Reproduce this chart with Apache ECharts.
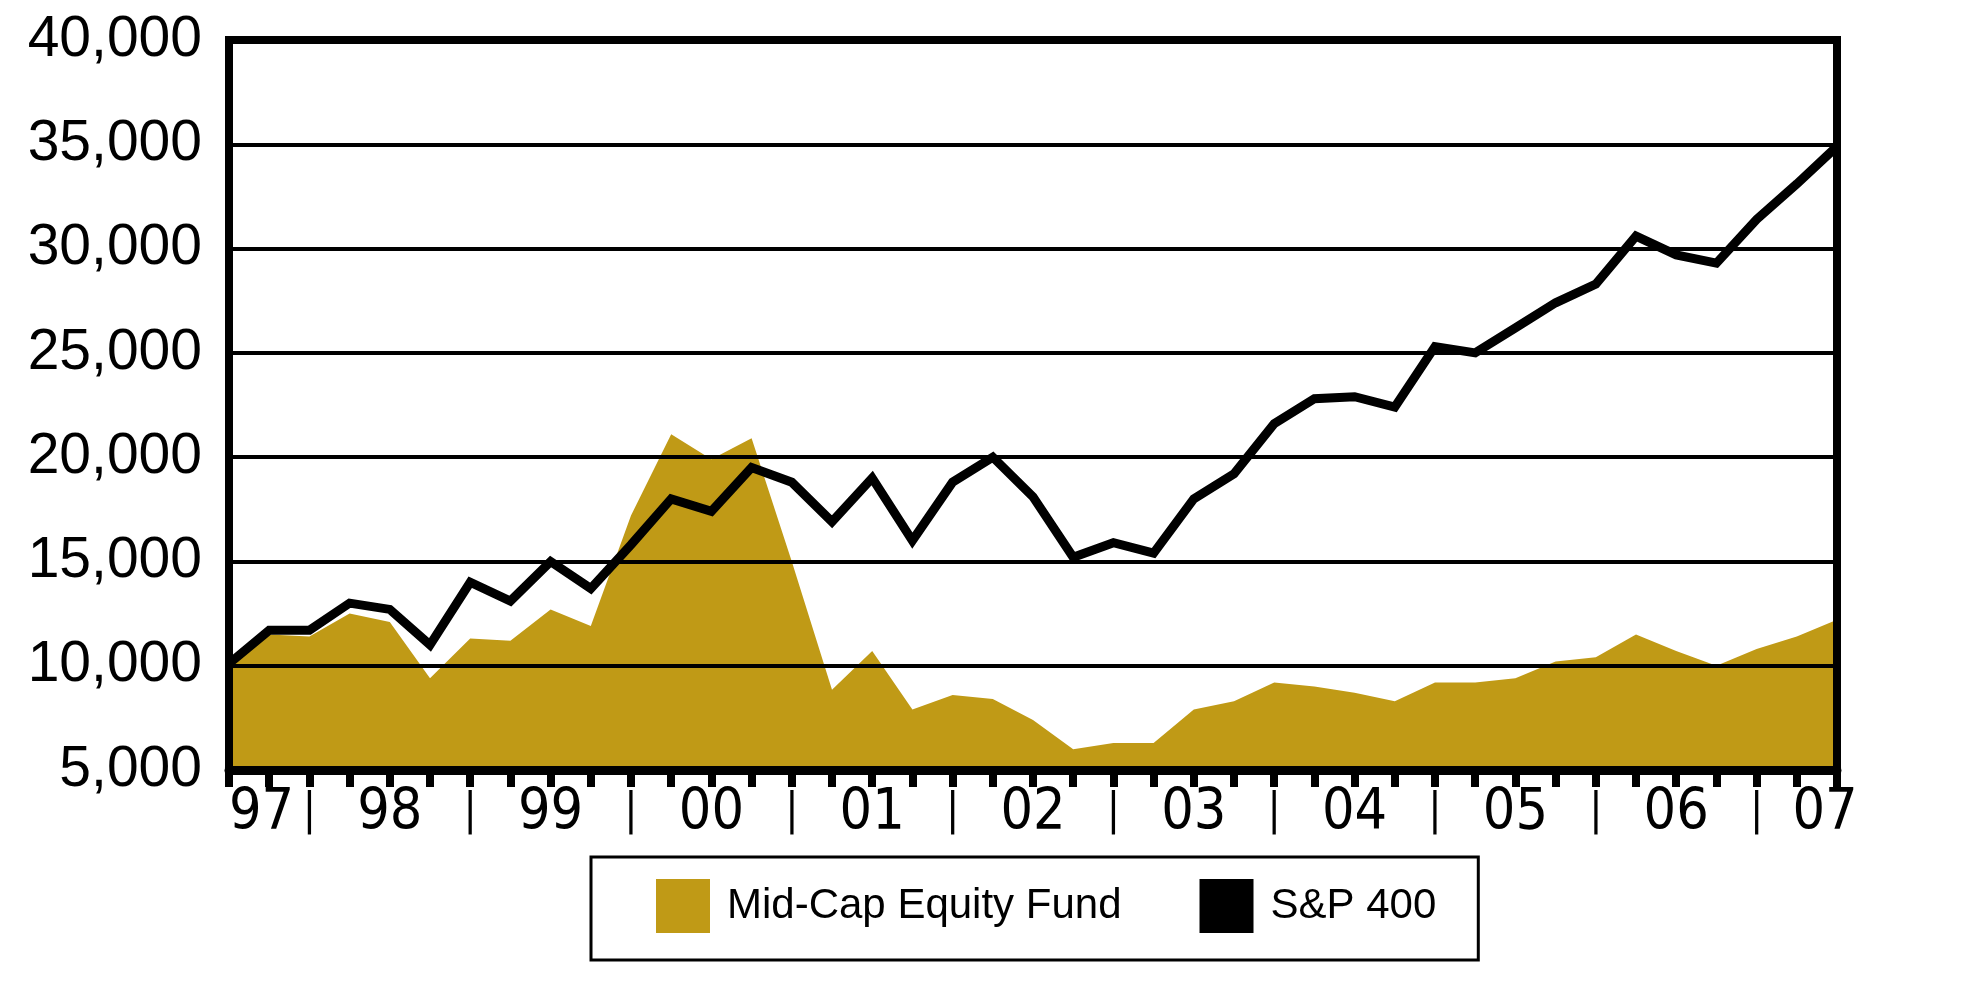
<!DOCTYPE html>
<html>
<head>
<meta charset="utf-8">
<script src="https://cdn.jsdelivr.net/npm/echarts@6/dist/echarts.min.js"></script>
<style>
  html, body { margin: 0; padding: 0; background: #fff; }
  #chart { width: 1967px; height: 988px; }
</style>
</head>
<body>
<div id="chart"></div>
<script>
// Year labels shown on the x axis (one every 4 quarterly points)
const years = ['97', '98', '99', '00', '01', '02', '03', '04', '05', '06', '07'];
const separator = '|';

// Quarterly values (41 points)
const fundValues = [9900, 11500, 11400, 12500, 12100, 9400, 11300, 11200, 12700, 11900,
  17200, 21100, 19900, 20900, 15000, 8850, 10700, 7900, 8600, 8400,
  7400, 6000, 6300, 6300, 7900, 8300, 9200, 9000, 8700, 8300,
  9200, 9200, 9400, 10200, 10400, 11500, 10700, 10000, 10800, 11400, 12200];
const spValues = [10100, 11700, 11700, 13000, 12700, 11000, 14000, 13100, 15000, 13700,
  15800, 18000, 17400, 19500, 18800, 16900, 19000, 16000, 18800, 20000,
  18100, 15200, 15900, 15400, 18000, 19200, 21600, 22800, 22900, 22400,
  25300, 25000, 26200, 27400, 28300, 30600, 29700, 29300, 31400, 33100, 34900];

const yTicks = { min: 5000, max: 40000, interval: 5000 };
const seriesNames = ['Mid-Cap Equity Fund', 'S&P 400'];

// Category labels built from the year list: year every 4th point, separator halfway
const categories = fundValues.map((_, i) => {
  if (i % 4 === 0) return years[i / 4];
  if (i % 4 === 2) return separator;
  return '';
});
const lastIndex = categories.length - 1;

const GOLD = '#C09A16';
const BASE_FONT = "'Liberation Sans', Arial, Helvetica, sans-serif";
const NARROW_FONT = "'Liberation Sans Narrow', 'Arial Narrow', 'DejaVu Sans Condensed', 'Liberation Sans', sans-serif";

const chart = echarts.init(document.getElementById('chart'), null, { renderer: 'canvas' });

const option = {
  backgroundColor: '#ffffff',
  animation: false,
  grid: {
    left: 229, right: 130, top: 40, bottom: 218,
    show: true, borderColor: '#000', borderWidth: 8, backgroundColor: 'transparent'
  },
  legend: {
    left: 591, top: 857,
    padding: [22, 42, 27, 65],
    borderColor: '#000', borderWidth: 3,
    itemWidth: 54, itemHeight: 54, itemGap: 78,
    icon: 'rect',
    textStyle: { fontFamily: BASE_FONT, fontSize: 42, color: '#000', padding: [0, 0, 0, 12] },
    data: seriesNames
  },
  xAxis: [{
    type: 'category',
    data: categories,
    boundaryGap: false,
    z: 10,
    axisLine: { show: true, lineStyle: { color: '#000', width: 9 } },
    axisTick: { show: true, interval: 0, length: 17, lineStyle: { color: '#000', width: 8 } },
    axisLabel: {
      interval: 0, margin: 16, color: '#000',
      fontFamily: NARROW_FONT, fontSize: 57,
      alignMinLabel: 'left', alignMaxLabel: 'center',
      formatter: (val, idx) => {
        if (val === separator) return '{sep|' + val + '}';
        if (idx === lastIndex) return '{last|' + val + '}';
        return val;
      },
      rich: {
        sep: { fontFamily: NARROW_FONT, fontSize: 44, color: '#000', padding: [5, 0, 0, 0] },
        last: { fontFamily: NARROW_FONT, fontSize: 57, color: '#000', padding: [0, 24, 0, 0] }
      }
    },
    splitLine: { show: false }
  }, {
    type: 'category',
    data: categories,
    boundaryGap: false,
    position: 'top',
    z: 10,
    axisLine: { show: true, lineStyle: { color: '#000', width: 8 } },
    axisTick: { show: false },
    axisLabel: { show: false }
  }],
  yAxis: [{
    type: 'value',
    min: yTicks.min, max: yTicks.max, interval: yTicks.interval,
    z: 10,
    axisLine: { show: true, lineStyle: { color: '#000', width: 8 } },
    axisTick: { show: false },
    axisLabel: {
      margin: 27, color: '#000', fontFamily: BASE_FONT, fontSize: 57,
      formatter: v => v.toLocaleString('en-US')
    },
    splitLine: { show: true, lineStyle: { color: '#000', width: 4 } }
  }, {
    type: 'value',
    position: 'right',
    min: yTicks.min, max: yTicks.max, interval: yTicks.interval,
    z: 10,
    axisLine: { show: true, lineStyle: { color: '#000', width: 8 } },
    axisTick: { show: false },
    axisLabel: { show: false },
    splitLine: { show: false }
  }],
  series: [{
    name: seriesNames[0],
    type: 'line',
    data: fundValues,
    xAxisIndex: 0, yAxisIndex: 0,
    showSymbol: false, symbol: 'none',
    lineStyle: { width: 0, color: GOLD },
    itemStyle: { color: GOLD },
    areaStyle: { color: GOLD, opacity: 1, origin: 'start' },
    z: 2
  }, {
    name: seriesNames[1],
    type: 'line',
    data: spValues,
    xAxisIndex: 0, yAxisIndex: 0,
    showSymbol: false, symbol: 'none',
    lineStyle: { width: 9, color: '#000', join: 'miter', miterLimit: 4 },
    itemStyle: { color: '#000' },
    z: 3
  }]
};
chart.setOption(option);
</script>
</body>
</html>
